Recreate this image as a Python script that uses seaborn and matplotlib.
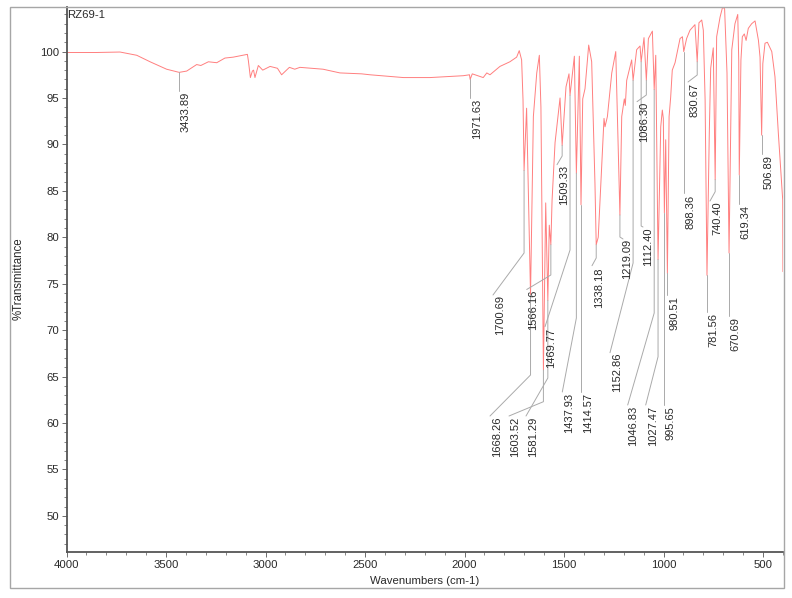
import numpy as np
import seaborn as sb
import matplotlib.pyplot as plt
from matplotlib.lines import Line2D
from matplotlib.patches import Rectangle
from matplotlib.ticker import MultipleLocator

# spectrum
wavenumbers = [4000, 3850, 3731, 3647, 3580, 3497, 3433.89, 3396, 3346, 3325, 3287, 3245, 3204, 3162,
               3091, 3086, 3076, 3066, 3060, 3053, 3036, 3014, 2977, 2940, 2919, 2880, 2853, 2827,
               2711, 2626, 2517, 2475, 2307, 2173, 2006, 1975, 1971.63, 1961, 1906, 1888, 1872, 1822,
               1772, 1738, 1725, 1713, 1706, 1700.69, 1688, 1668.26, 1654, 1637, 1624, 1616, 1603.52,
               1592, 1581.29, 1574, 1566.16, 1560, 1545, 1520, 1509.33, 1490, 1475, 1469.77, 1448,
               1437.93, 1423, 1414.57, 1406, 1394.5, 1376, 1361, 1344.5, 1338.18, 1328, 1304, 1299,
               1294, 1282, 1260, 1240, 1219.09, 1210, 1197, 1192, 1185, 1160, 1152.86, 1135, 1118,
               1112.40, 1098, 1086.30, 1076, 1056, 1046.83, 1039, 1027.47, 1014, 1006, 1001, 995.65,
               989, 980.51, 972, 964, 956, 942, 917, 905, 898.36, 884, 867, 842, 830.67, 822, 808,
               800, 791, 781.56, 770, 763, 750, 740.40, 733, 716, 703, 693, 681, 670.69, 657, 641,
               627, 622, 619.34, 611, 604, 594, 585, 574, 557, 540, 523, 515, 506.89, 501, 490, 478,
               456, 440, 423, 401, 400]
transmittance = [99.9, 99.9, 99.95, 99.6, 98.9, 98.1, 97.76, 97.9, 98.6, 98.5, 98.9, 98.8, 99.3, 99.4,
                 99.7, 99.0, 97.2, 97.9, 98.0, 97.2, 98.5, 98.0, 98.4, 98.2, 97.5, 98.3, 98.1, 98.3,
                 98.1, 97.7, 97.6, 97.5, 97.2, 97.2, 97.4, 97.5, 97.0, 97.6, 97.2, 97.7, 97.5, 98.4,
                 98.9, 99.4, 100.1, 99.1, 94.8, 87.2, 93.9, 73.8, 93.0, 97.7, 99.6, 94.0, 65.7,
                 83.7, 73.2, 81.3, 79.2, 84.0, 90.2, 95.0, 89.9, 96.2, 97.6, 95.3, 99.5,
                 86.9, 99.5, 83.5, 94.9, 96.0, 100.7, 98.9, 85.8, 79.2, 80.0, 90.5, 92.8,
                 91.9, 93.0, 97.7, 100.0, 82.4, 93.0, 94.9, 94.2, 96.9, 99.1, 96.9, 100.2, 100.6,
                 98.9, 101.5, 96.9, 101.4, 102.2, 95.9, 99.6, 77.6, 91.9, 93.7, 92.8, 82.6,
                 90.5, 76.1, 93.0, 95.1, 98.0, 98.8, 101.4, 101.6, 100.0, 101.4, 102.3, 102.9, 98.9, 103.1, 103.4,
                 102.3, 94.8, 75.9, 91.2, 98.2, 100.4, 86.2, 101.6, 103.7, 104.8, 104.6, 97.7, 78.3, 100.2, 103.0,
                 104.0, 99.0, 86.7, 99.1, 101.6, 101.9, 101.2, 102.5, 103.0, 103.3, 101.2, 99.4, 91.0, 98.7, 100.9, 101.0,
                 100.0, 97.3, 91.2, 84.0, 76.3]

# picked peaks
peak_labels = ['3433.89', '1971.63', '1700.69', '1668.26', '1603.52', '1581.29', '1566.16', '1509.33',
               '1469.77', '1437.93', '1414.57', '1338.18', '1219.09', '1152.86', '1112.40', '1086.30',
               '1046.83', '1027.47', '995.65', '980.51', '898.36', '830.67', '781.56', '740.40',
               '670.69', '619.34', '506.89']

# layout only, in picture pixels: label x, label top, elbow y, leader end x, leader end y
label_layout = {
    '3433.89': (186, 92, 91, 179, 91), '1971.63': (476.7, 99, 98, 470, 98),
    '1700.69': (500.5, 295, 253, 493, 295), '1668.26': (497, 416.7, 375, 490, 416),
    '1603.52': (515, 416.7, 401.7, 509, 416), '1581.29': (533, 416.7, 378, 526, 416),
    '1566.16': (533.3, 290, 275, 526.7, 289.5), '1509.33': (564.3, 165, 156, 557, 164.7),
    '1469.77': (550.7, 328, 250, 545, 326.7), '1437.93': (569.3, 393, 318, 562.3, 392),
    '1414.57': (588.3, 393, 392, 581, 392), '1338.18': (599.3, 267, 258, 592, 265.7),
    '1219.09': (627.3, 239, 237, 623, 239), '1152.86': (616.7, 353, 263, 610, 352.7),
    '1112.40': (648.3, 227, 226, 643, 227), '1086.30': (644, 102, 95, 637, 101.7),
    '1046.83': (633, 406, 313, 627.7, 405), '1027.47': (652.7, 406, 356.7, 645.7, 405),
    '995.65': (670.7, 406, 405, 664.3, 405), '980.51': (674.3, 296, 295, 667.4, 295),
    '898.36': (690.7, 195, 193, 683.7, 193), '830.67': (695, 83, 75, 688, 82),
    '781.56': (713.3, 313, 312, 707, 312), '740.40': (717.3, 201, 191.7, 710, 201),
    '670.69': (735.7, 317, 316, 729.3, 316), '619.34': (745.5, 205, 204, 739.2, 204),
    '506.89': (768.3, 155, 154, 761.6, 154),
}

W, H = 792, 598

sb.set_style('white')
plt.rcParams['font.family'] = ['Liberation Sans', 'DejaVu Sans']

fig = plt.figure(figsize=(W / 100, H / 100), dpi=100)
ax = fig.add_axes([66.5 / W, 1 - 552 / H, (783 - 66.5) / W, (552 - 7) / H])
ax.patch.set_alpha(0)

sb.lineplot(x=wavenumbers, y=transmittance, sort=False, estimator=None, color='#ff7f7f', linewidth=0.7, ax=ax)

ax.set_xlim(4000, 399.6)
ax.set_ylim(46.1, 104.8)

ax.xaxis.set_major_locator(MultipleLocator(500))
ax.xaxis.set_minor_locator(MultipleLocator(100))
ax.yaxis.set_major_locator(MultipleLocator(5))
ax.yaxis.set_minor_locator(MultipleLocator(1))
ax.tick_params(axis='both', which='major', bottom=True, left=True, length=3.5, width=0.6, color='#555555',
               labelsize=8.2, labelcolor='#2a2a2a', pad=2)
ax.tick_params(axis='both', which='minor', bottom=True, left=True, length=2, width=0.5, color='#555555')

sb.despine(ax=ax)
for side in ['left', 'bottom']:
    ax.spines[side].set_color('#555555')
    ax.spines[side].set_linewidth(1.3)

ax.set_xlabel('')
ax.set_ylabel('')


def fx(x):
    return x / W


def fy(y):
    return 1 - y / H


# outer frame of the printout
fig.add_artist(Rectangle((fx(10.3), fy(587.7)), fx(784 - 10.3), (587.7 - 7) / H, transform=fig.transFigure,
                         fill=False, edgecolor='#a6a6a6', linewidth=1.0))

fig.text(fx(425), fy(580.5), 'Wavenumbers (cm-1)', ha='center', va='center', fontsize=8.2, color='#2a2a2a')
fig.text(fx(18.3), fy(279), '%Transmittance', rotation=90, ha='center', va='center', fontsize=8.3, color='#2a2a2a')
fig.text(fx(67), fy(15.5), 'RZ69-1', ha='left', va='center', fontsize=8.2, color='#2a2a2a')

# leaders and peak labels
order = np.argsort(wavenumbers)
for name in peak_labels:
    label_x, label_top, elbow_y, end_x, end_y = label_layout[name]
    wn = float(name)
    t = np.interp(wn, np.array(wavenumbers)[order], np.array(transmittance)[order])
    px, py = ax.transData.transform((wn, t))
    py = H - py
    fig.add_artist(Line2D([fx(px), fx(px), fx(end_x)], [fy(py), fy(elbow_y), fy(end_y)],
                          transform=fig.transFigure, color='#aaaaaa', linewidth=0.7))
    fig.text(fx(label_x), fy(label_top), name, rotation=90, ha='center', va='top', fontsize=8, color='#2a2a2a')

plt.savefig('out.png', dpi=100)
